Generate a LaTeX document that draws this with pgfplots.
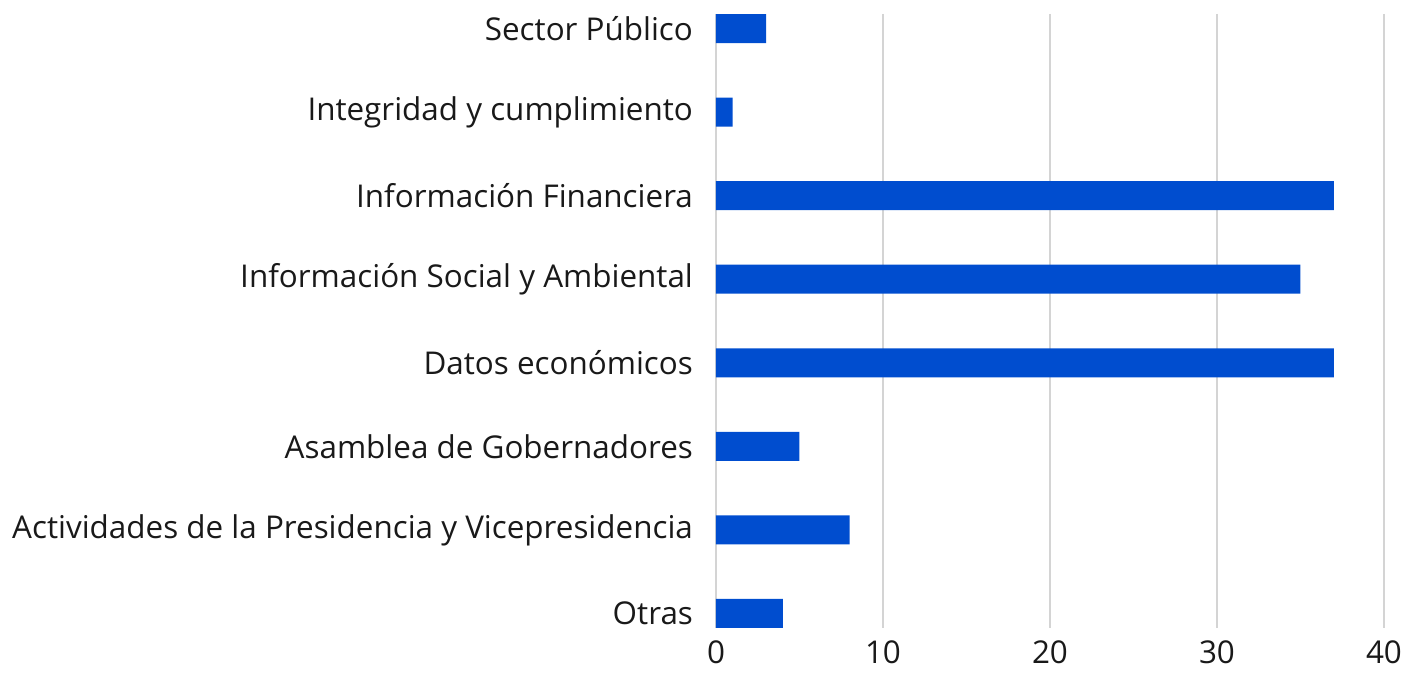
\documentclass[border=0pt]{standalone}
\usepackage{fontspec}
\setmainfont{Open Sans}
\usepackage{pgfplots}
\pgfplotsset{compat=1.18}
\definecolor{barblue}{RGB}{0,77,207}
\definecolor{gridgray}{RGB}{212,212,212}
\begin{document}
\begin{tikzpicture}
\begin{axis}[
  scale only axis,
  width=334pt, height=307pt,
  xbar,
  bar width=0.347,
  xmin=0, xmax=40,
  ymin=-0.174, ymax=7.174,
  y dir=reverse,
  xtick={0,10,20,30,40},
  ytick={0,...,7},
  yticklabels={Sector Público, Integridad y cumplimiento, Información Financiera,
    Información Social y Ambiental, Datos económicos, Asamblea de Gobernadores,
    Actividades de la Presidencia y Vicepresidencia, Otras},
  axis line style={draw=none},
  major tick length=0pt,
  xmajorgrids,
  grid style={gridgray, line width=1pt},
  tick label style={font=\fontsize{15.7}{18}\selectfont, text=black!90},
  /pgf/number format/assume math mode=true,
  yticklabel style={xshift=-8pt},
  xticklabel style={yshift=-3pt},
  clip=false,
]
\addplot[fill=barblue, draw=none] coordinates {
  (3,0) (1,1) (37,2) (35,3) (37,4) (5,5) (8,6) (4,7)
};
\end{axis}
\pgfresetboundingbox
\path[use as bounding box] ([xshift=-358pt,yshift=-22.5pt]current axis.south west)
  rectangle ([xshift=352.5pt,yshift=314pt]current axis.south west);
\end{tikzpicture}
\end{document}
